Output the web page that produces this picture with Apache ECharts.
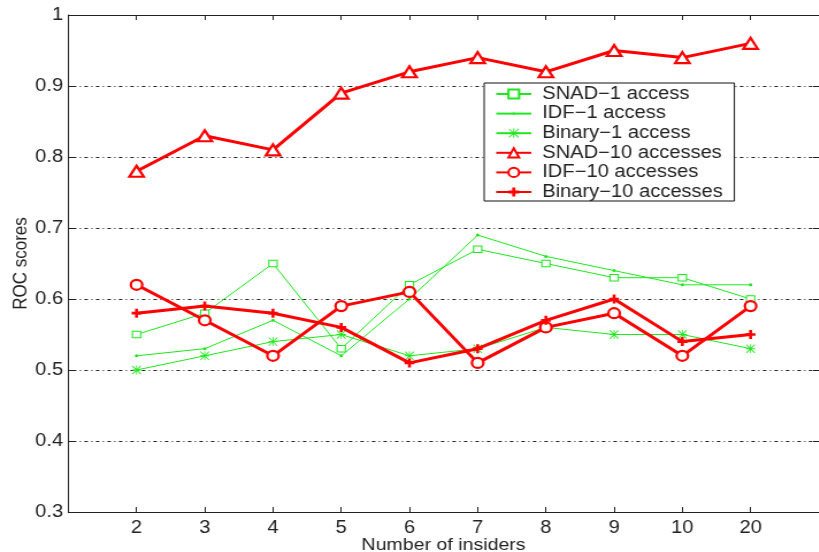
<!DOCTYPE html>
<html>
<head>
<meta charset="utf-8">
<script src="https://cdn.jsdelivr.net/npm/echarts@6/dist/echarts.min.js"></script>
<style>
  html, body { margin: 0; padding: 0; background: #fff; overflow: hidden; }
  /* the figure is laid out narrower and widened by 15% for its wide-aspect look */
  #chart { width: 712px; height: 552px; transform: scaleX(1.15); transform-origin: 0 0; }
</style>
</head>
<body>
<div id="chart"></div>
<script>
// Number of insiders (shown as ordinal positions 2..11 on the x axis)
const insiderLabels = ['2', '3', '4', '5', '6', '7', '8', '9', '10', '20'];

// ROC scores per method
const snad1    = [0.55, 0.58, 0.65, 0.53, 0.62, 0.67, 0.65, 0.63, 0.63, 0.60];
const idf1     = [0.52, 0.53, 0.57, 0.52, 0.60, 0.69, 0.66, 0.64, 0.62, 0.62];
const binary1  = [0.50, 0.52, 0.54, 0.55, 0.52, 0.53, 0.56, 0.55, 0.55, 0.53];
const snad10   = [0.78, 0.83, 0.81, 0.89, 0.92, 0.94, 0.92, 0.95, 0.94, 0.96];
const idf10    = [0.62, 0.57, 0.52, 0.59, 0.61, 0.51, 0.56, 0.58, 0.52, 0.59];
const binary10 = [0.58, 0.59, 0.58, 0.56, 0.51, 0.53, 0.57, 0.60, 0.54, 0.55];

const yTicks = [0.3, 0.4, 0.5, 0.6, 0.7, 0.8, 0.9, 1];

const GREEN = '#1ee81e';
const RED = '#ff0000';
const INK = '#222';
const FONT = 'Liberation Sans';

// tick positions on the x axis: one per insider count
const xPositions = insiderLabels.map((_, i) => i + 2);
const toPoints = arr => arr.map((v, i) => [xPositions[i], v]);

const plusPath = 'path://M7 0H13V7H20V13H13V20H7V13H0V7H7Z';
const starPath = 'path://M0 9H20V11H0Z M9 0H11V20H9Z ' +
  'M1.5 0.1L19.9 18.5L18.5 19.9L0.1 1.5Z M18.5 0.1L19.9 1.5L1.5 19.9L0.1 18.5Z';
// small dot centred in a wider (empty) box so it stays tiny at any symbol size
const dotPath = 'path://M0 0M20 20M7.5 10A2.5 2.5 0 1 0 12.5 10A2.5 2.5 0 1 0 7.5 10Z';

function thin(name, data, symbol, size, hollow) {
  return {
    name, type: 'line', data: toPoints(data),
    symbol, symbolSize: size, showAllSymbol: true,
    lineStyle: { color: GREEN, width: 1 },
    itemStyle: hollow ? { color: '#fff', borderColor: GREEN, borderWidth: 1 }
                      : { color: GREEN, borderWidth: 0 },
    emphasis: { disabled: true }, z: 2
  };
}
function thick(name, data, symbol, size, hollow) {
  return {
    name, type: 'line', data: toPoints(data),
    symbol, symbolSize: size, showAllSymbol: true,
    lineStyle: { color: RED, width: 3 },
    itemStyle: hollow ? { color: '#fff', borderColor: RED, borderWidth: 2.2 }
                      : { color: RED, borderWidth: 0 },
    emphasis: { disabled: true }, z: 3
  };
}

const chart = echarts.init(document.getElementById('chart'), null, { renderer: 'canvas' });

const tickStyle = { show: true, inside: true, length: 5, lineStyle: { color: INK, width: 1 } };
const axisLineStyle = { show: true, lineStyle: { color: INK, width: 1 } };

chart.setOption({
  animation: false,
  backgroundColor: '#fff',
  grid: { left: 59.4, top: 15, right: 0, bottom: 40, containLabel: false, outerBoundsMode: 'none' },
  legend: {
    orient: 'vertical', left: 421, top: 83,
    padding: [2, 10, 0, 9.5],
    itemWidth: 30.5, itemHeight: 11.5, itemGap: 1.6,
    backgroundColor: '#fff', borderColor: '#111', borderWidth: 1,
    textStyle: { fontFamily: FONT, fontSize: 17.5, lineHeight: 18, color: INK, padding: [0, 0, 0, 4.5] },
    data: ['SNAD−1 access', 'IDF−1 access', 'Binary−1 access',
           'SNAD−10 accesses', 'IDF−10 accesses', 'Binary−10 accesses']
  },
  xAxis: [{
    type: 'value', min: 1, max: 12, interval: 1, position: 'bottom',
    name: 'Number of insiders', nameLocation: 'middle', nameGap: 25, nameMoveOverlap: false,
    nameTextStyle: { fontFamily: FONT, fontSize: 17, color: INK },
    axisLine: axisLineStyle,
    axisTick: Object.assign({ customValues: xPositions }, tickStyle),
    axisLabel: {
      customValues: xPositions,
      formatter: v => insiderLabels[v - 2] || '',
      fontFamily: FONT, fontSize: 17.5, color: INK, margin: 7
    },
    splitLine: { show: false }
  }, {
    type: 'value', min: 1, max: 12, interval: 1, position: 'top',
    axisLine: axisLineStyle,
    axisTick: Object.assign({ customValues: xPositions }, tickStyle),
    axisLabel: { show: false },
    splitLine: { show: false }
  }],
  yAxis: [{
    type: 'value', min: 0.3, max: 1, interval: 0.1, position: 'left',
    name: 'ROC scores', nameLocation: 'middle', nameGap: 33, nameRotate: 90, nameMoveOverlap: false,
    nameTextStyle: { fontFamily: FONT, fontSize: 17, color: INK },
    axisLine: axisLineStyle,
    axisTick: tickStyle,
    axisLabel: {
      formatter: v => {
        const t = yTicks.find(y => Math.abs(y - v) < 1e-6);
        return t === undefined ? '' : (t === 1 ? '1' : t.toFixed(1));
      },
      fontFamily: FONT, fontSize: 17.5, color: INK, margin: 4.5
    },
    splitLine: { show: true, lineStyle: { color: INK, width: 1, type: [1, 3, 3, 3] } }
  }, {
    type: 'value', min: 0.3, max: 1, interval: 0.1, position: 'right',
    axisLine: { show: false },
    axisTick: tickStyle,
    axisLabel: { show: false },
    splitLine: { show: false }
  }],
  series: [
    thin('SNAD−1 access', snad1, 'rect', [7.2, 6.5], true),
    thin('IDF−1 access', idf1, dotPath, 12, false),
    thin('Binary−1 access', binary1, starPath, [8, 9], false),
    thick('SNAD−10 accesses', snad10, 'triangle', [12.5, 11], true),
    thick('IDF−10 accesses', idf10, 'circle', [10, 10], true),
    thick('Binary−10 accesses', binary10, plusPath, [8.5, 9], false)
  ]
});
</script>
</body>
</html>
